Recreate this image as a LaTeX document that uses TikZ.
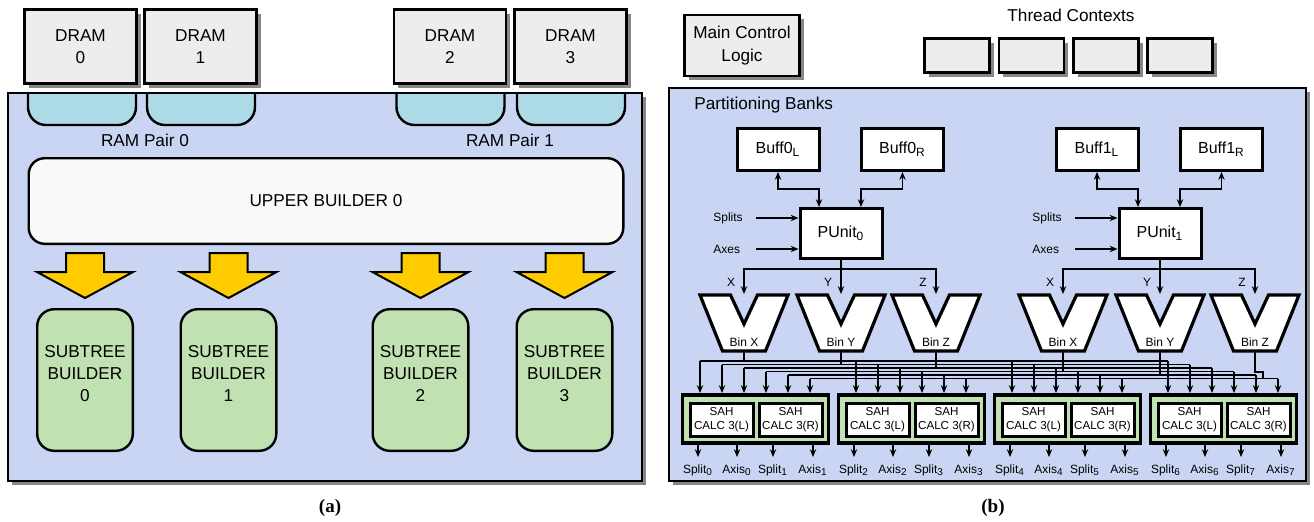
\documentclass[tikz,border=0pt]{standalone}
\usepackage{fontspec}
\setmainfont{Liberation Sans}
\newfontfamily\captionserif{Liberation Serif}
\usetikzlibrary{arrows.meta,shadows}

\definecolor{panelblue}{RGB}{201,213,243}
\definecolor{pillcyan}{RGB}{172,219,231}
\definecolor{subgreen}{RGB}{192,225,178}
\definecolor{arrowyellow}{RGB}{255,204,0}
\definecolor{boxgray}{RGB}{237,237,237}
\definecolor{shadowgray}{RGB}{135,135,135}
\definecolor{upperwhite}{RGB}{249,249,249}

\begin{document}
\begin{tikzpicture}[x=0.5pt,y=-0.5pt,>={Stealth[length=3.9pt,width=3.2pt]},
  shadowed/.style={drop shadow={shadow xshift=2.2pt,shadow yshift=-2.2pt,fill=shadowgray,opacity=1}},
  panel/.style={draw,line width=1.4pt,fill=panelblue,shadowed},
  graybox/.style={draw,line width=1.4pt,fill=boxgray,shadowed,align=center,inner sep=0pt},
  pill/.style={draw,line width=1.2pt,fill=pillcyan,rounded corners=9pt},
  upper/.style={draw,line width=1.2pt,fill=upperwhite,rounded corners=8pt,inner sep=0pt},
  subtree/.style={draw,line width=1.2pt,fill=subgreen,rounded corners=8.5pt,minimum width=47.8pt,minimum height=70.8pt,inner sep=0pt},
  bigarrow/.style={draw,line width=1pt,fill=arrowyellow,line join=miter},
  whitebox/.style={draw,line width=1.5pt,fill=white,inner sep=0pt},
  bin/.style={draw,line width=1.6pt,fill=white,line join=miter},
  sahgroup/.style={draw,line width=1.8pt,fill=subgreen,minimum width=73pt,minimum height=24.2pt,inner sep=0pt},
  sahbox/.style={draw,line width=1.5pt,fill=white,minimum width=31.5pt,minimum height=16.5pt,inner sep=0pt,align=center,font=\fontsize{5.8}{7}\selectfont},
  wire/.style={line width=0.55pt,black},
  bigtext/.style={font=\fontsize{8.6}{10.8}\selectfont,align=center,inner sep=1pt},
  labtext/.style={font=\fontsize{8.6}{11.5}\selectfont,align=center,inner sep=1pt},
  unittext/.style={font=\fontsize{8}{9}\selectfont},
  smalltext/.style={font=\fontsize{6}{7}\selectfont,inner sep=0.5pt},
  outtext/.style={font=\fontsize{6}{7}\selectfont,inner sep=0.5pt},
  captext/.style={font=\captionserif\bfseries\fontsize{9.5}{11}\selectfont}
]
\useasboundingbox (0,0) rectangle (1314,521);

% (a) builder panel
\draw[panel] (8,93) rectangle (642,481);

% DRAM chips and RAM pairs
\foreach \n/\dx in {0/80.5,1/200.5,2/450,3/570.5}
  \node[graybox,bigtext,minimum width=56pt,minimum height=37pt] (dram\n) at (\dx,46.5) {DRAM\\\n};
\foreach \px in {82,201,450.5,571}
  \draw[pill] ({\px-54},94) -- ({\px-54},125) -- ({\px+54},125) -- ({\px+54},94);
\node[labtext] (pair0) at (145,140) {RAM Pair 0};
\node[labtext] (pair1) at (510,140) {RAM Pair 1};

% Upper builder
\node[upper,bigtext,minimum width=297.3pt,minimum height=42.8pt] (upper) at (326,201) {UPPER BUILDER 0};

% Hand-off arrows and subtree builders
\foreach \n/\sx in {0/85,1/228.5,2/420.5,3/564.5}{
  \draw[bigarrow] ({\sx-19},253) -- ({\sx+19},253) -- ({\sx+19},272) -- ({\sx+48},272)
    -- (\sx,298) -- ({\sx-48},272) -- ({\sx-19},272) -- cycle;
  \node[subtree] (sub\n) at (\sx,380) {};
  \node[bigtext] (sub\n-txt) at (\sx,373.5) {SUBTREE\\BUILDER\\\n};
}
\node[captext] (capa) at (330,508) {(a)};

% (b) control and contexts
\node[graybox,labtext,minimum width=57.5pt,minimum height=30.5pt] (ctrl) at (742,45.5) {Main Control\\Logic};
\node[labtext] (ctxlab) at (1071,15) {Thread Contexts};
\foreach \tc/\tx in {0/957,1/1031.5,2/1106,3/1180}
  \node[graybox,minimum width=32.5pt,minimum height=17pt] (ctx\tc) at (\tx,55.5) {};

% (b) partitioning banks
\draw[panel] (669,88) rectangle (1306,481);
\node[labtext,anchor=west] (pbanks) at (692,105) {Partitioning Banks};

\foreach \p/\ox in {0/0,1/319}{
  \node[whitebox,unittext,minimum width=41pt,minimum height=21pt] (buf\p-l) at ({778+\ox},149.5) {Buff\p\textsubscript{L}};
  \node[whitebox,unittext,minimum width=41pt,minimum height=21pt] (buf\p-r) at ({902.5+\ox},149.5) {Buff\p\textsubscript{R}};
  \node[whitebox,unittext,minimum width=41pt,minimum height=25pt] (pu\p) at ({841+\ox},233.5) {PUnit\textsubscript{\p}};
  \draw[wire,<->] (buf\p-l.south) -- ++(0,17) -| ([xshift=-11pt]pu\p.north);
  \draw[wire,<->] (buf\p-r.south) -- ++(0,17) -| ([xshift=10pt]pu\p.north);
  \node[smalltext,anchor=west] (spl\p) at ({712+\ox},218) {Splits};
  \node[smalltext,anchor=west] (axs\p) at ({712+\ox},249) {Axes};
  \draw[wire,->] ([xshift=22pt]spl\p.west) -- (spl\p.west -| pu\p.west);
  \draw[wire,->] ([xshift=22pt]axs\p.west) -- (axs\p.west -| pu\p.west);
  % bins
  \coordinate (fork\p) at ({841+\ox},269);
  \draw[wire] (pu\p.south) -- (fork\p);
  \foreach \bx/\bl in {744/X,841/Y,936/Z}{
    \pgfmathsetmacro\cx{\bx+\ox}
    \draw[bin] ({\cx-44},295) -- ({\cx-13.5},295) -- (\cx,324) -- ({\cx+13.5},295) -- ({\cx+44},295)
      -- ({\cx+21.5},351) -- ({\cx-21.5},351) -- cycle;
    \node[smalltext] (bin\bl\p) at (\cx,342) {Bin \bl};
    \coordinate (bin\bl\p-t) at (\cx,294);
    \coordinate (bin\bl\p-b) at (\cx,351);
    \node[smalltext] (axlab\bl\p) at ({\cx-13},282) {\bl};
    \draw[wire,->] (fork\p) -| (bin\bl\p-t);
  }
}

% SAH calculators
\foreach \g in {0,...,3}{
  \node[sahgroup] (grp\g) at ({755.5+156*\g},419) {};
  \node[sahbox] (sah\g-l) at ({721.5+156*\g},420) {SAH\\CALC 3(L)};
  \node[sahbox] (sah\g-r) at ({790.5+156*\g},420) {SAH\\CALC 3(R)};
}

% bin-to-SAH bus
\foreach \i/\off/\yy in {1/19/361,2/41/364.5,3/63/368,4/85/371.5,5/107/375,6/129/378.5}{
  \foreach \g in {0,...,3}
    \coordinate (bus\i-\g) at ({681+156*\g+\off},\yy);
  \draw[wire] (bus\i-0) -- (bus\i-3);
  \foreach \g in {0,...,3}
    \draw[wire,->] (bus\i-\g) -- (bus\i-\g |- grp\g.north);
}
\draw[wire] (binX0-b) -- (binX0-b |- bus1-0);
\draw[wire] (binY0-b) -- (binY0-b |- bus2-0);
\draw[wire] (binZ0-b) -- (binZ0-b |- bus3-0);
\draw[wire] (binX1-b) -- (binX1-b |- bus4-0);
\draw[wire] (binY1-b) -- (binY1-b |- bus5-0);
\draw[wire] (binZ1-b) -- ++(0,21) -- ++(8,0) |- (bus6-3);

% outputs
\foreach \g in {0,...,3}{
  \foreach \k/\off/\outname/\io in {0/17/Split/0,1/56/Axis/0,2/92/Split/1,3/132/Axis/1}{
    \pgfmathtruncatemacro\idx{2*\g+\io}
    \node[outtext,anchor=base] (out\g-\k) at ({681+156*\g+\off},473) {\outname\textsubscript{\idx}};
    \draw[wire,->] (out\g-\k.base |- grp\g.south) -- ++(0,12);
  }
}
\node[captext] (capb) at (993,508) {(b)};

\end{tikzpicture}
\end{document}
